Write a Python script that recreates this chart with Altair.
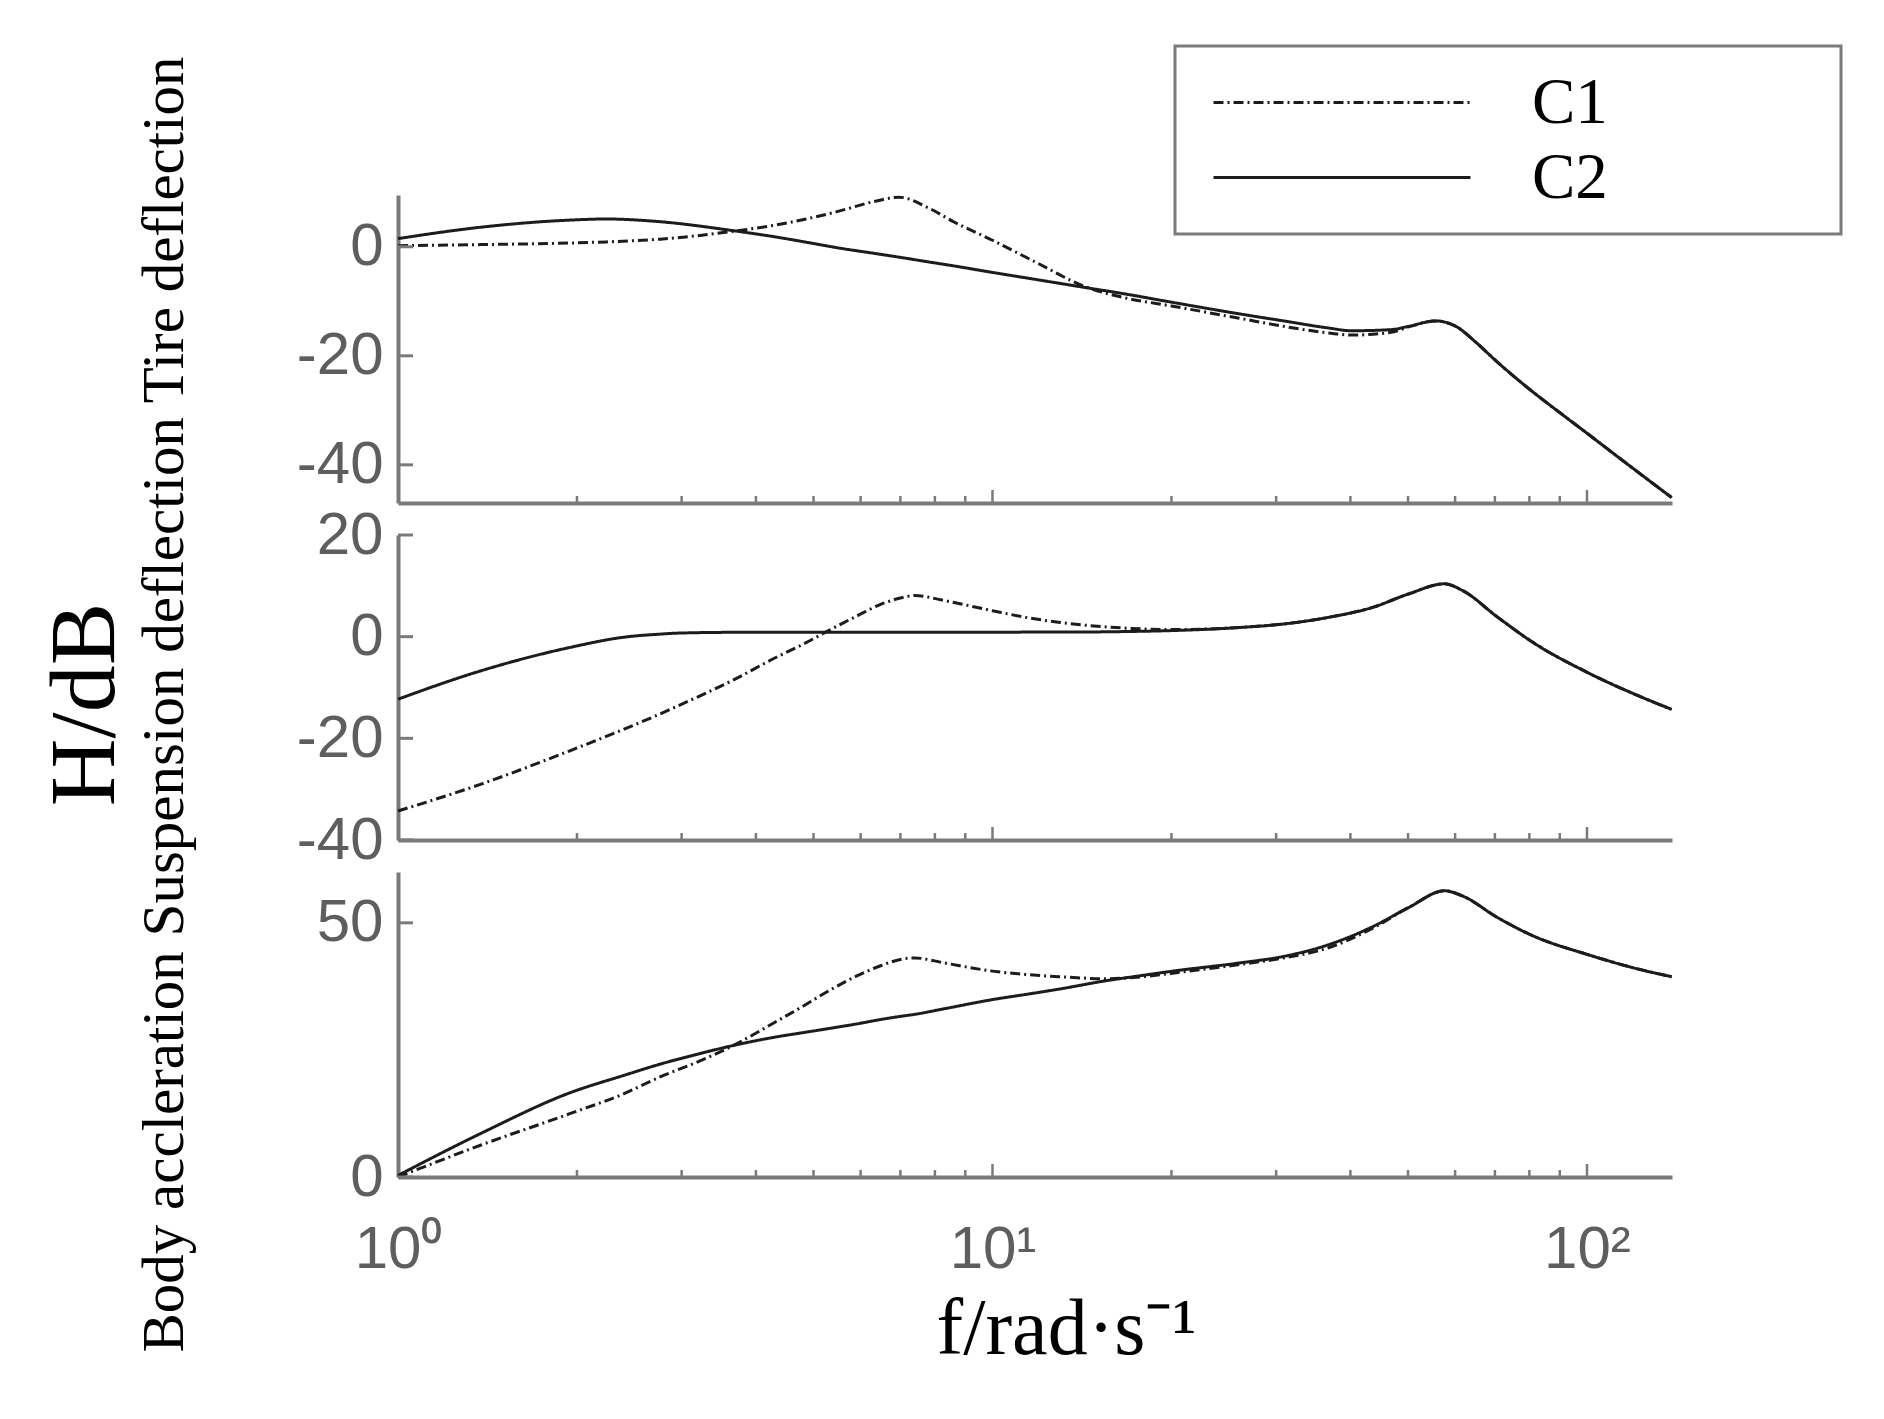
import altair as alt
import pandas as pd

# ---------------- data ----------------
series_names = ["C1", "C2"]

# Tire deflection (top panel)
top_f = [1.0, 1.38, 1.95, 2.24, 2.76, 3.64, 4.32, 5.0, 5.5, 6.32, 6.96, 7.78, 8.6, 10.0,
         11.76, 14.47, 16.61, 20.1, 26.0, 30.9, 36.75, 40.2, 46.8, 50.1, 55.6, 60.2, 65.0,
         70.1, 80.4, 90.2, 100.0, 114.8, 138.8]
top_c2 = [1.5, 3.6, 4.9, 5.1, 4.6, 3.0, 1.8, 0.6, -0.2, -1.2, -1.9, -2.75, -3.5, -4.7,
          -5.95, -7.55, -8.6, -10.2, -12.3, -13.6, -14.9, -15.4, -15.2, -14.6, -13.6, -14.6, -17.5,
          -20.8, -26.3, -30.5, -34.2, -39.2, -46.0]
top_c1 = [0.2, 0.4, 0.7, 0.9, 1.4, 2.8, 4.0, 5.4, 6.5, 8.3, 9.1, 7.2, 4.6, 1.2,
          -2.7, -7.5, -9.3, -10.9, -13.1, -14.6, -15.8, -16.2, -15.7, -14.7, -13.6, -14.6, -17.5,
          -20.8, -26.3, -30.5, -34.2, -39.2, -46.0]

# Suspension deflection (middle panel)
mid_f = [1.0, 1.38, 1.95, 2.4, 2.76, 2.96, 3.64, 4.32, 4.8, 5.3, 5.9, 6.5, 7.0, 7.4, 8.3,
         10.0, 11.5, 13.0, 16.6, 20.1, 26.0, 30.9, 36.75, 43.7, 50.1, 57.6, 61.7, 70.8,
         81.3, 100.0, 123.0, 138.8]
mid_c2 = [-12.3, -6.7, -2.1, -0.1, 0.5, 0.7, 0.85, 0.85, 0.85, 0.85, 0.85, 0.85, 0.85, 0.85, 0.85,
          0.85, 0.9, 0.9, 1.0, 1.2, 1.8, 2.5, 3.8, 5.8, 8.4, 10.4, 9.1, 3.8,
          -1.2, -7.0, -11.8, -14.3]
mid_c1 = [-34.3, -29.0, -22.4, -18.2, -15.2, -13.6, -8.7, -4.1, -1.5, 1.2, 4.0, 6.4, 7.6, 8.1, 7.1,
          5.1, 3.7, 2.8, 1.7, 1.4, 1.8, 2.5, 3.8, 5.8, 8.4, 10.4, 9.1, 3.8,
          -1.2, -7.0, -11.8, -14.3]

# Body acceleration (bottom panel)
bot_f = [1.0, 1.38, 1.95, 2.4, 2.76, 3.2, 3.64, 4.3, 4.8, 5.3, 5.9, 6.5, 7.0, 7.4, 8.3,
         10.0, 11.5, 13.0, 15.5, 17.5, 20.1, 26.0, 30.9, 36.75, 43.7, 50.1, 57.6, 61.7,
         70.8, 81.3, 100.0, 123.0, 138.8]
bot_c2 = [0.3, 8.6, 16.6, 20.0, 22.2, 24.2, 25.8, 27.5, 28.4, 29.2, 30.1, 31.0, 31.6, 32.0, 33.1,
          34.9, 36.0, 37.0, 38.6, 39.5, 40.5, 42.1, 43.4, 45.7, 49.3, 53.0, 56.3, 55.3,
          51.0, 47.4, 43.8, 40.8, 39.4]
bot_c1 = [0.0, 6.3, 12.5, 16.4, 19.7, 22.7, 25.7, 30.4, 33.6, 36.6, 39.5, 41.6, 42.8, 43.1, 42.1,
          40.5, 39.8, 39.4, 39.0, 39.3, 40.1, 41.8, 43.1, 45.1, 49.0, 53.0, 56.3, 55.3,
          51.0, 47.4, 43.8, 40.8, 39.4]

# axis ticks / labels
x_label_values = [1, 10, 100]
x_minor_ticks = [2, 3, 4, 5, 6, 7, 8, 9, 20, 30, 40, 50, 60, 70, 80, 90]
x_major_ticks = [10, 100]
top_yticks = [0, -20, -40]
mid_yticks = [20, 0, -20, -40]
bot_yticks = [0, 50]

x_domain = [1, 139]
top_domain = [-47, 9.5]
mid_domain = [-40, 20]
bot_domain = [0, 60]

title_left = "Body accleration Suspension deflection Tire deflection"
title_mid = "H/dB"
x_title = "f/rad\u00b7s\u207b\u00b9"

# ---------------- styling ----------------
W = 1274
AX = "#7a7a7a"
LBL = "#5e5e5e"
LINE = "#1c1c1c"
SANS = "Liberation Sans"
SERIF = "Liberation Serif"


def long_df(f, c1, c2):
    rows = []
    for fi, v in zip(f, c2):
        rows.append({"f": fi, "v": v, "series": "C2"})
    for fi, v in zip(f, c1):
        rows.append({"f": fi, "v": v, "series": "C1"})
    return pd.DataFrame(rows)


legend = alt.Legend(
    orient="none", legendX=777, legendY=-149,
    title=".", titleOrient="right", titlePadding=210, titleFontSize=8, titleOpacity=0,
    symbolType="stroke", symbolSize=66049, symbolStrokeWidth=3,
    symbolStrokeColor=LINE, symbolOffset=17,
    labelFont=SERIF, labelFontSize=65, labelColor="black", labelOffset=60,
    labelLimit=0,
    clipHeight=73, rowPadding=2, padding=20, strokeColor=AX,
)


def panel(df, ydomain, height, yticks, ytitle, ytitle_size, ytitle_x, ytitle_y, bottom):
    xscale = alt.Scale(type="log", domain=x_domain, nice=False)
    yscale = alt.Scale(domain=ydomain, nice=False, zero=False)
    if bottom:
        xaxis = alt.Axis(
            values=x_label_values, ticks=False, tickSize=0, grid=False,
            labelExpr="'10' + (datum.value == 1 ? '\u2070' : datum.value == 10 ? '\u00b9' : '\u00b2')",
            labelFont=SANS, labelFontSize=60, labelColor=LBL, labelFlush=False,
            labelOverlap=False, labelBaseline="alphabetic", labelPadding=90,
            domainColor=AX, domainWidth=4,
            title=x_title, titleFont=SERIF, titleFontSize=80, titleFontWeight="normal",
            titleColor="black", titleX=668, titleY=176, titleAlign="center",
            titleBaseline="alphabetic",
        )
    else:
        xaxis = alt.Axis(values=x_label_values, ticks=False, tickSize=0, labels=False,
                         grid=False, domainColor=AX, domainWidth=4, title=None)
    if ytitle:
        yaxis = alt.Axis(
            values=yticks, ticks=False, tickSize=0, grid=False,
            labelExpr="'' + datum.value", labelFont=SANS, labelFontSize=60,
            labelColor=LBL, labelPadding=15, labelOverlap=False, labelFlush=False,
            domainColor=AX, domainWidth=4,
            title=ytitle, titleFont=SERIF, titleFontSize=ytitle_size, titleFontWeight="normal",
            titleColor="black", titleAngle=270, titleX=ytitle_x, titleY=ytitle_y,
            titleAlign="center", titleBaseline="alphabetic",
        )
    else:
        yaxis = alt.Axis(
            values=yticks, ticks=False, tickSize=0, grid=False,
            labelExpr="'' + datum.value", labelFont=SANS, labelFontSize=60,
            labelColor=LBL, labelPadding=15, labelOverlap=False, labelFlush=False,
            domainColor=AX, domainWidth=4, title=None,
        )
    xenc = alt.X("f:Q", scale=xscale, axis=xaxis)
    yenc = alt.Y("v:Q", scale=yscale, axis=yaxis)

    lines = alt.Chart(df).mark_line(interpolate="monotone", strokeWidth=3, color=LINE).encode(
        x=xenc, y=yenc,
        strokeDash=alt.StrokeDash(
            "series:N",
            scale=alt.Scale(domain=series_names, range=[[10, 4, 2, 4], [1, 0]]),
            legend=legend,
        ),
        detail="series:N",
    )
    minor = alt.Chart(pd.DataFrame({"f": x_minor_ticks})).mark_rule(
        color=AX, strokeWidth=2.5).encode(
        x=xenc, y=alt.value(height), y2=alt.value(height - 7))
    major = alt.Chart(pd.DataFrame({"f": x_major_ticks})).mark_rule(
        color=AX, strokeWidth=2.5).encode(
        x=xenc, y=alt.value(height), y2=alt.value(height - 13))
    yt = alt.Chart(pd.DataFrame({"v": yticks})).mark_rule(
        color=AX, strokeWidth=3).encode(
        y=yenc, x=alt.value(0), x2=alt.value(15))
    return alt.layer(lines, minor, major, yt).properties(width=W, height=height)


top = panel(long_df(top_f, top_c1, top_c2), top_domain, 308, top_yticks,
            title_left, 59, -216, 509, False)
mid = panel(long_df(mid_f, mid_c1, mid_c2), mid_domain, 305, mid_yticks,
            title_mid, 94, -285, 169, False)
bot = panel(long_df(bot_f, bot_c1, bot_c2), bot_domain, 305, bot_yticks,
            None, 0, 0, 0, True)

chart = alt.vconcat(top, mid, bot, spacing=32, bounds="flush").properties(
    padding={"left": 30, "top": 36, "right": 5, "bottom": 5}
).configure_view(stroke=None).configure_legend(strokeWidth=3)

chart.save("out.html", embed_options={"renderer": "svg", "actions": False})
